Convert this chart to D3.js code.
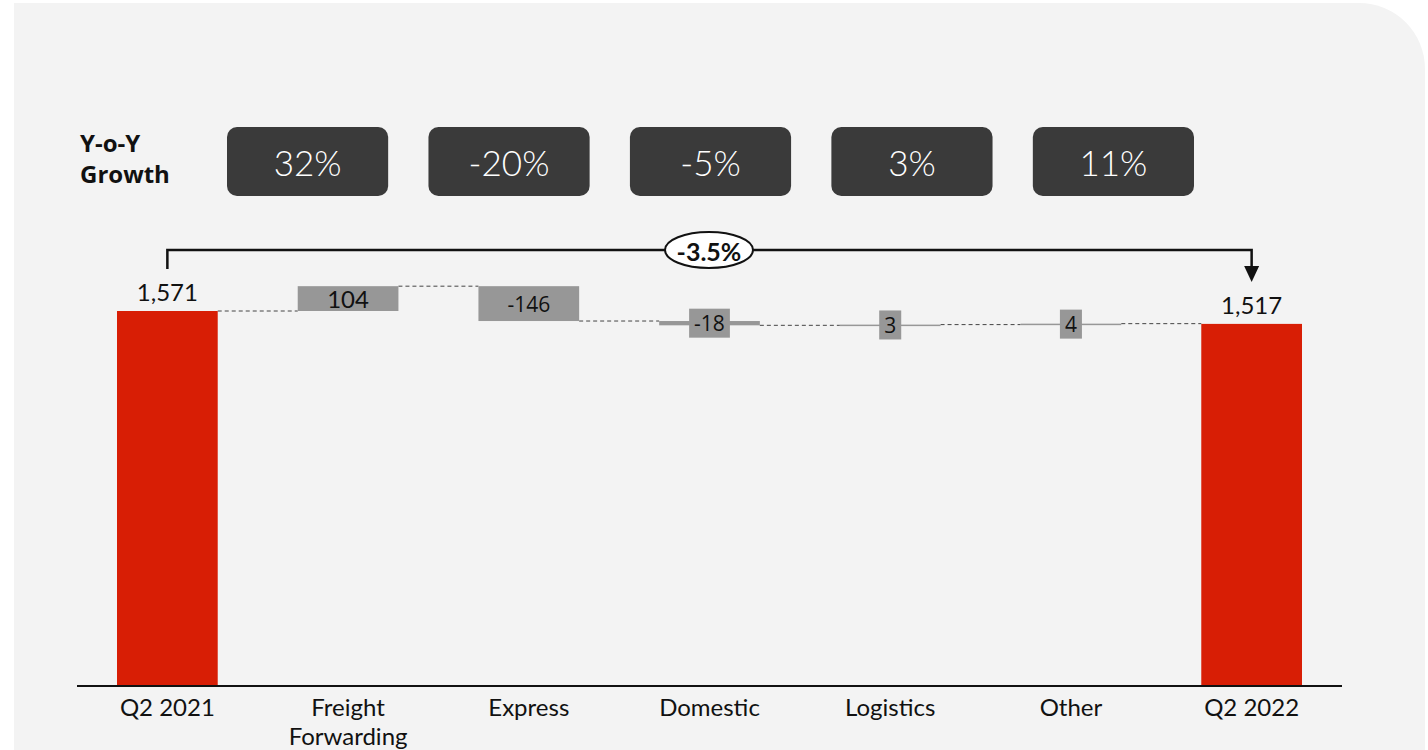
<!DOCTYPE html>
<html>
<head>
<meta charset="utf-8">
<script src="https://cdn.jsdelivr.net/npm/d3@7"></script>
<style>
  html, body { margin: 0; padding: 0; background: #ffffff; }
  svg { display: block; }
</style>
</head>
<body>
<svg id="chart" width="1428" height="750"></svg>
<script>
// ---- data ----
const categories = ["Q2 2021", "Freight Forwarding", "Express", "Domestic", "Logistics", "Other", "Q2 2022"];
const values = [1571, 104, -146, -18, 3, 4, 1517];
const kinds = ["total", "delta", "delta", "delta", "delta", "delta", "total"];
const valueLabels = ["1,571", "104", "-146", "-18", "3", "4", "1,517"];
const growthLabels = ["32%", "-20%", "-5%", "3%", "11%"];
const growthTitle = ["Y-o-Y", "Growth"];
const overallChange = "-3.5%";

// ---- layout ----
const W = 1428, H = 750;
const svg = d3.select("#chart");
const mainFont = "Lato, 'Open Sans', sans-serif";
const smallFont = "'Open Sans', 'Liberation Sans', sans-serif";
const boldFont = "'Open Sans', Lato, sans-serif";
const RED = "#d81e05", GREY = "#979797";

// background panel with rounded top-right corner
const px0 = 14, py0 = 3, px1 = 1425, r = 66;
svg.append("path")
  .attr("d", `M${px0},${py0} H${px1 - r} A${r},${r} 0 0 1 ${px1},${py0 + r} V${H} H${px0} Z`)
  .attr("fill", "#f3f3f3");

const x = d3.scaleBand().domain(categories).range([77, 1342])
  .paddingInner(0.4427).paddingOuter(0.2214);
const y = d3.scaleLinear().domain([0, 1571]).range([686, 311]);

// compute bar extents
let running = 0;
const bars = categories.map((c, i) => {
  let start, end;
  if (kinds[i] === "total") { start = 0; end = values[i]; running = values[i]; }
  else { start = running; end = running + values[i]; running = end; }
  return { cat: c, start, end, kind: kinds[i], label: valueLabels[i] };
});

// connectors
const g = svg.append("g");
for (let i = 0; i < bars.length - 1; i++) {
  const level = bars[i].end;
  g.append("line")
    .attr("x1", x(bars[i].cat) + x.bandwidth())
    .attr("x2", x(bars[i + 1].cat))
    .attr("y1", y(level)).attr("y2", y(level))
    .attr("stroke", "#444").attr("stroke-width", 1)
    .attr("stroke-dasharray", "4,3");
}

// bars
g.selectAll("rect.bar").data(bars).join("rect")
  .attr("class", "bar")
  .attr("x", d => x(d.cat))
  .attr("width", x.bandwidth())
  .attr("y", d => y(Math.max(d.start, d.end)))
  .attr("height", d => Math.max(1.5, Math.abs(y(d.start) - y(d.end))))
  .attr("fill", d => d.kind === "total" ? RED : GREY);

// axis
const axis = svg.append("g").attr("transform", "translate(0,686)")
  .call(d3.axisBottom(x).tickSize(0).tickPadding(0));
axis.select(".domain").attr("stroke", "#111").attr("stroke-width", 2)
  .attr("d", "M77,0H1342");
axis.selectAll(".tick text").remove();
axis.selectAll(".tick").each(function (d) {
  const words = d === "Freight Forwarding" ? ["Freight", "Forwarding"] : [d];
  const t = d3.select(this).append("text")
    .attr("text-anchor", "middle").attr("fill", "#111")
    .style("font-family", mainFont).style("font-size", "24px");
  words.forEach((w, k) => t.append("tspan").attr("x", 0).attr("y", 30 + k * 29).text(w));
});

// value labels
bars.forEach(d => {
  const cx = x(d.cat) + x.bandwidth() / 2;
  if (d.kind === "total") {
    svg.append("text").attr("x", cx).attr("y", y(d.end) - 10)
      .attr("text-anchor", "middle").attr("fill", "#111")
      .style("font-family", mainFont).style("font-size", "24px").text(d.label);
  } else {
    const h = Math.abs(y(d.start) - y(d.end));
    const cy = (y(d.start) + y(d.end)) / 2;
    const isFF = d.cat === "Freight Forwarding";
    const t = svg.append("text").attr("x", cx).attr("y", cy)
      .attr("text-anchor", "middle").attr("dominant-baseline", "central").attr("fill", "#111")
      .style("font-family", isFF ? mainFont : smallFont)
      .style("font-size", isFF ? "24px" : "21px").text(d.label);
    if (h < 20) {
      const tw = t.node().getComputedTextLength();
      svg.insert("rect", () => t.node())
        .attr("x", cx - tw / 2 - 5).attr("width", tw + 10)
        .attr("y", cy - 14.5).attr("height", 29)
        .attr("fill", GREY);
    }
  }
});

// growth title
const gt = svg.append("text").attr("fill", "#111")
  .style("font-family", boldFont).style("font-size", "24px").style("font-weight", "700");
growthTitle.forEach((w, k) => gt.append("tspan").attr("x", 80).attr("y", 152 + k * 31).text(w));

// growth boxes
const gx = d3.scaleBand().domain(growthLabels.map((_, i) => i)).range([227, 1194]).paddingInner(0.2);
growthLabels.forEach((lab, i) => {
  svg.append("rect").attr("x", gx(i)).attr("y", 127).attr("width", gx.bandwidth()).attr("height", 69)
    .attr("rx", 10).attr("fill", "#3a3a3a");
  svg.append("text").attr("x", gx(i) + gx.bandwidth() / 2).attr("y", 161.5)
    .attr("text-anchor", "middle").attr("dominant-baseline", "central")
    .attr("fill", "#fff").style("font-family", mainFont).style("font-size", "35px")
    .style("font-weight", "300").text(lab);
});

// bracket
const bx0 = x(categories[0]) + x.bandwidth() / 2;
const bx1 = x(categories[categories.length - 1]) + x.bandwidth() / 2;
const by = 250;
svg.append("path")
  .attr("d", `M${bx0},269 V${by} H${bx1} V268`)
  .attr("fill", "none").attr("stroke", "#111").attr("stroke-width", 2.5);
svg.append("path")
  .attr("d", `M${bx1 - 7.5},266 L${bx1 + 7.5},266 L${bx1},282 Z`).attr("fill", "#111");
const ecx = (bx0 + bx1) / 2 - 0.5;
svg.append("ellipse").attr("cx", ecx).attr("cy", by).attr("rx", 44).attr("ry", 18)
  .attr("fill", "#fff").attr("stroke", "#111").attr("stroke-width", 2);
svg.append("text").attr("x", ecx).attr("y", by + 1)
  .attr("text-anchor", "middle").attr("dominant-baseline", "central").attr("fill", "#111")
  .style("font-family", mainFont).style("font-size", "25px").style("font-weight", "700")
  .text(overallChange);
</script>
</body>
</html>
